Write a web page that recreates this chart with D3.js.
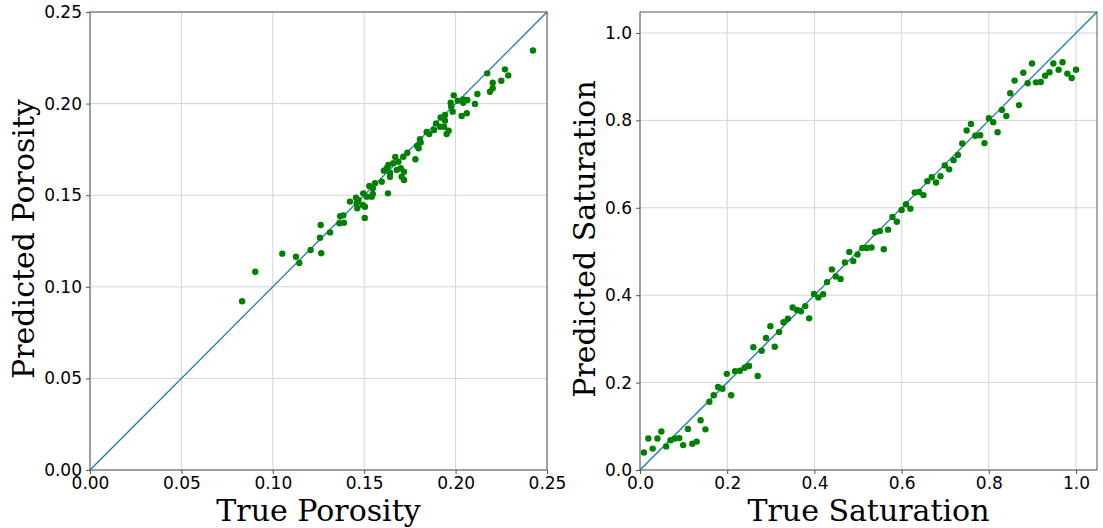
<!DOCTYPE html>
<html>
<head>
<meta charset="utf-8">
<script src="https://cdn.jsdelivr.net/npm/d3@7"></script>
<style>
  body { margin: 0; background: #fff; }
  .tick text { font-family: "DejaVu Sans", sans-serif; font-size: 17px; fill: #000; }
  .axis-label { font-family: "DejaVu Serif", serif; font-size: 30px; fill: #000; }
</style>
</head>
<body>
<svg id="chart" width="1103" height="528"></svg>
<script>
// porosity: true vs predicted
var porosityTrue = [0.2270, 0.2288, 0.2173, 0.2203, 0.2250, 0.2203, 0.2188, 0.2119, 0.2106, 0.1990,
  0.2011, 0.2042, 0.2064, 0.2042, 0.1973, 0.1976, 0.1984, 0.2061, 0.2033, 0.1942,
  0.1933, 0.1918, 0.1942, 0.1893, 0.1915, 0.1937, 0.1882, 0.1962, 0.1951, 0.1842,
  0.1856, 0.1805, 0.1809, 0.1790, 0.1798, 0.1736, 0.1714, 0.1670, 0.1780, 0.1687,
  0.1659, 0.1632, 0.1623, 0.1608, 0.1641, 0.1678, 0.1700, 0.1718, 0.1641, 0.1705,
  0.1718, 0.1596, 0.1559, 0.1528, 0.1547, 0.1630, 0.1495, 0.1547, 0.1514, 0.1541,
  0.1455, 0.1468, 0.1422, 0.1459, 0.1492, 0.1504, 0.1462, 0.1503, 0.1368, 0.1386,
  0.1364, 0.1389, 0.1262, 0.1313, 0.1258, 0.1207, 0.1265, 0.1052, 0.1127, 0.1145,
  0.0904, 0.0832, 0.2423];
var porosityPred = [0.2187, 0.2154, 0.2165, 0.2114, 0.2125, 0.2084, 0.2065, 0.2052, 0.1998, 0.2045,
  0.2016, 0.2023, 0.2020, 0.2005, 0.2005, 0.1983, 0.1956, 0.1947, 0.1932, 0.1938,
  0.1920, 0.1925, 0.1907, 0.1892, 0.1874, 0.1874, 0.1856, 0.1852, 0.1834, 0.1845,
  0.1834, 0.1805, 0.1787, 0.1769, 0.1756, 0.1732, 0.1710, 0.1709, 0.1696, 0.1683,
  0.1674, 0.1665, 0.1647, 0.1634, 0.1623, 0.1638, 0.1647, 0.1628, 0.1601, 0.1601,
  0.1583, 0.1574, 0.1565, 0.1550, 0.1538, 0.1510, 0.1510, 0.1507, 0.1492, 0.1492,
  0.1486, 0.1474, 0.1465, 0.1456, 0.1447, 0.1437, 0.1429, 0.1376, 0.1386, 0.1390,
  0.1347, 0.1350, 0.1337, 0.1297, 0.1268, 0.1201, 0.1183, 0.1181, 0.1164, 0.1130,
  0.1082, 0.0921, 0.2290];

// saturation: true vs predicted
var saturationTrue = [0.899, 0.879, 0.859, 0.889, 0.908, 0.919, 0.929, 0.939, 0.948, 0.969,
  0.960, 0.980, 0.990, 1.000, 0.849, 0.869, 0.830, 0.840, 0.800, 0.810,
  0.759, 0.749, 0.820, 0.769, 0.780, 0.739, 0.790, 0.729, 0.719, 0.699,
  0.709, 0.689, 0.669, 0.659, 0.679, 0.630, 0.640, 0.650, 0.610, 0.600,
  0.620, 0.579, 0.589, 0.569, 0.539, 0.550, 0.559, 0.510, 0.520, 0.531,
  0.499, 0.480, 0.489, 0.470, 0.440, 0.449, 0.460, 0.429, 0.399, 0.409,
  0.420, 0.379, 0.350, 0.360, 0.369, 0.388, 0.339, 0.329, 0.319, 0.299,
  0.309, 0.289, 0.279, 0.260, 0.270, 0.250, 0.240, 0.229, 0.218, 0.199,
  0.189, 0.179, 0.209, 0.169, 0.159, 0.139, 0.150, 0.110, 0.090, 0.080,
  0.070, 0.060, 0.049, 0.040, 0.019, 0.029, 0.009, 0.099, 0.120, 0.130];
var saturationPred = [0.930, 0.909, 0.891, 0.885, 0.887, 0.888, 0.902, 0.910, 0.930, 0.933,
  0.916, 0.907, 0.897, 0.916, 0.862, 0.835, 0.824, 0.810, 0.805, 0.796,
  0.792, 0.777, 0.773, 0.765, 0.766, 0.747, 0.748, 0.721, 0.709, 0.697,
  0.688, 0.672, 0.670, 0.661, 0.658, 0.635, 0.636, 0.629, 0.608, 0.595,
  0.598, 0.579, 0.568, 0.550, 0.544, 0.547, 0.505, 0.508, 0.508, 0.509,
  0.493, 0.499, 0.478, 0.475, 0.459, 0.443, 0.437, 0.430, 0.403, 0.395,
  0.402, 0.375, 0.372, 0.366, 0.363, 0.347, 0.346, 0.338, 0.316, 0.329,
  0.282, 0.302, 0.273, 0.281, 0.215, 0.238, 0.234, 0.227, 0.226, 0.220,
  0.186, 0.190, 0.171, 0.171, 0.156, 0.114, 0.093, 0.094, 0.073, 0.072,
  0.068, 0.054, 0.088, 0.072, 0.072, 0.049, 0.040, 0.057, 0.060, 0.065];

var porosityTicks = [0, 0.05, 0.10, 0.15, 0.20, 0.25];
var saturationTicks = [0, 0.2, 0.4, 0.6, 0.8, 1.0];

var svg = d3.select("#chart");

function drawPanel(opt) {
  var x = d3.scaleLinear().domain([0, opt.max]).range([opt.left, opt.right]);
  var y = d3.scaleLinear().domain([0, opt.max]).range([470, 12]);
  var g = svg.append("g");

  // grid
  g.append("g").selectAll("line.gx").data(opt.ticks).enter().append("line")
    .attr("x1", function(d) { return x(d); }).attr("x2", function(d) { return x(d); })
    .attr("y1", y(0)).attr("y2", y(opt.max))
    .attr("stroke", "#d4d4d4").attr("stroke-width", 1);
  g.append("g").selectAll("line.gy").data(opt.ticks).enter().append("line")
    .attr("y1", function(d) { return y(d); }).attr("y2", function(d) { return y(d); })
    .attr("x1", x(0)).attr("x2", x(opt.max))
    .attr("stroke", "#d4d4d4").attr("stroke-width", 1);

  // 1:1 line
  g.append("line")
    .attr("x1", x(0)).attr("y1", y(0))
    .attr("x2", x(opt.max)).attr("y2", y(opt.max))
    .attr("stroke", "#1f77b4").attr("stroke-width", 1.3);

  // points
  g.append("g").selectAll("circle").data(opt.xs).enter().append("circle")
    .attr("cx", function(d) { return x(d); })
    .attr("cy", function(d, i) { return y(opt.ys[i]); })
    .attr("r", 3.2)
    .attr("fill", "#008000");

  // frame
  g.append("rect")
    .attr("x", x(0)).attr("y", y(opt.max))
    .attr("width", x(opt.max) - x(0)).attr("height", y(0) - y(opt.max))
    .attr("fill", "none").attr("stroke", "#555").attr("stroke-width", 1);

  var xAxis = g.append("g").attr("transform", "translate(0,470)")
    .call(d3.axisBottom(x).tickValues(opt.ticks).tickFormat(d3.format(opt.fmt)).tickSize(4).tickPadding(3));
  var yAxis = g.append("g").attr("transform", "translate(" + opt.left + ",0)")
    .call(d3.axisLeft(y).tickValues(opt.ticks).tickFormat(d3.format(opt.fmt)).tickSize(4).tickPadding(4));
  xAxis.select(".domain").remove();
  yAxis.select(".domain").remove();
  g.selectAll(".tick line").attr("stroke", "#555");

  g.append("text").attr("class", "axis-label")
    .attr("x", (opt.left + opt.right) / 2).attr("y", 521)
    .attr("text-anchor", "middle").text(opt.xLabel);
  g.append("text").attr("class", "axis-label")
    .attr("transform", "translate(" + opt.yLabelX + ",239) rotate(-90)")
    .attr("text-anchor", "middle").text(opt.yLabel);
}

drawPanel({ left: 90, right: 547, max: 0.25, ticks: porosityTicks, fmt: ".2f",
  xs: porosityTrue, ys: porosityPred, xLabel: "True Porosity", yLabel: "Predicted Porosity", yLabelX: 34 });
drawPanel({ left: 640, right: 1097, max: 1.048, ticks: saturationTicks, fmt: ".1f",
  xs: saturationTrue, ys: saturationPred, xLabel: "True Saturation", yLabel: "Predicted Saturation", yLabelX: 595 });
</script>
</body>
</html>
